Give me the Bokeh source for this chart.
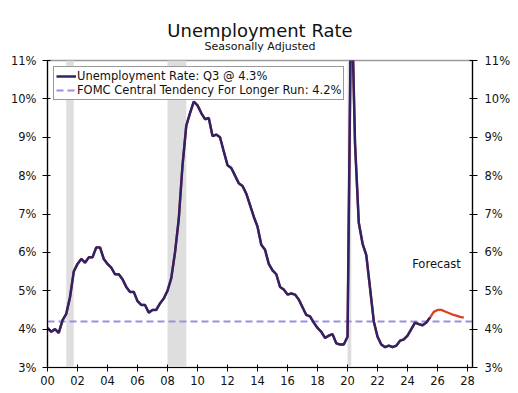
from bokeh.plotting import figure
from bokeh.models import Range1d, FixedTicker, LinearAxis, Title, Legend, LegendItem
from bokeh.core.properties import value
from bokeh.embed import file_html
from bokeh.resources import INLINE

# ---------------- data ----------------
start_year = 2000
# quarterly unemployment rate, 2000Q1 .. 2025Q3 (actual)
unemployment_actual = [
    4.03, 3.93, 4.00, 3.90,   # 2000
    4.23, 4.40, 4.83, 5.50,   # 2001
    5.70, 5.83, 5.73, 5.87,   # 2002
    5.87, 6.13, 6.13, 5.83,   # 2003
    5.70, 5.60, 5.43, 5.43,   # 2004
    5.30, 5.10, 4.97, 4.97,   # 2005
    4.73, 4.63, 4.63, 4.43,   # 2006
    4.50, 4.50, 4.67, 4.80,   # 2007
    5.00, 5.33, 6.00, 6.87,   # 2008
    8.27, 9.30, 9.63, 9.93,   # 2009
    9.83, 9.63, 9.47, 9.50,   # 2010
    9.03, 9.07, 9.00, 8.63,   # 2011
    8.27, 8.20, 8.00, 7.80,   # 2012
    7.73, 7.53, 7.23, 6.93,   # 2013
    6.67, 6.20, 6.07, 5.70,   # 2014
    5.53, 5.43, 5.10, 5.03,   # 2015
    4.90, 4.93, 4.90, 4.77,   # 2016
    4.57, 4.37, 4.33, 4.17,   # 2017
    4.03, 3.93, 3.77, 3.83,   # 2018
    3.87, 3.63, 3.60, 3.60,   # 2019
    3.80, 13.07, 8.83, 6.77,  # 2020
    6.23, 5.93, 5.07, 4.20,   # 2021
    3.80, 3.60, 3.53, 3.57,   # 2022
    3.53, 3.57, 3.70, 3.73,   # 2023
    3.83, 4.00, 4.17, 4.13,   # 2024
    4.10, 4.17, 4.30,         # 2025 Q1-Q3
]
# forecast 2025Q4 .. 2027Q4
unemployment_forecast = [4.45, 4.50, 4.50, 4.46, 4.42, 4.38, 4.35, 4.32, 4.30]
fomc_longer_run = 4.2

# recessions (start, end) in fractional years
recession_start = [2001.25, 2008.0, 2020.0]
recession_end = [2001.75, 2009.25, 2020.25]

x_ticks = list(range(2000, 2029, 2))
x_tick_labels = ["00", "02", "04", "06", "08", "10", "12", "14", "16", "18",
                 "20", "22", "24", "26", "28"]
y_ticks = [3, 4, 5, 6, 7, 8, 9, 10, 11]
y_tick_labels = ["3%", "4%", "5%", "6%", "7%", "8%", "9%", "10%", "11%"]

legend_actual = "Unemployment Rate: Q3 @ 4.3%"
legend_fomc = "FOMC Central Tendency For Longer Run: 4.2%"
forecast_label = "Forecast"

X_MIN, X_MAX = 2000.0, 2028.33
Y_MIN, Y_MAX = 3.0, 11.0

# ---------------- derived x values ----------------
x_actual = [start_year + i / 4 for i in range(len(unemployment_actual))]
n_total = len(unemployment_actual) + len(unemployment_forecast)
x_all = [start_year + i / 4 for i in range(n_total)]
y_all = unemployment_actual + unemployment_forecast

FONT = "DejaVu Sans"
TICK_FONT_SIZE = "11.5px"

p = figure(width=518, height=393, output_backend="svg", toolbar_location=None,
           title=None, x_range=Range1d(X_MIN, X_MAX), y_range=Range1d(Y_MIN, Y_MAX),
           min_border_left=47, min_border_right=46, min_border_top=60,
           min_border_bottom=26)

p.xgrid.visible = False
p.ygrid.visible = False
p.outline_line_color = "#9a9a9a"
p.outline_line_width = 1.5
p.background_fill_color = "white"
p.border_fill_color = "white"

# recession shading
p.quad(left=recession_start, right=recession_end,
       bottom=[Y_MIN] * len(recession_start), top=[Y_MAX] * len(recession_start),
       fill_color="#dedede", line_color=None)

# FOMC dashed line
fomc_r = p.line(x=[X_MIN, X_MAX], y=[fomc_longer_run, fomc_longer_run],
                line_color="#9b8de0", line_width=2, line_dash="7 4")

# forecast (red) under the actual series
p.line(x=x_all, y=y_all, line_color="#e0401e", line_width=2.3)
act_r = p.line(x=x_actual, y=unemployment_actual, line_color="#2f2368", line_width=2.5)

# forecast label
p.text(x=[2025.93], y=[5.70], text=[forecast_label], text_align="center",
       text_baseline="middle", text_font=value(FONT), text_font_size="11.5px",
       text_color="#111111")

# axes
def style_axis(ax):
    ax.axis_line_color = "black"
    ax.axis_line_width = 1.2
    ax.major_tick_line_color = "black"
    ax.minor_tick_line_color = None
    ax.major_label_text_font = FONT
    ax.major_label_text_font_size = TICK_FONT_SIZE
    ax.major_label_text_color = "#111111"

xa = p.xaxis[0]
xa.ticker = FixedTicker(ticks=x_ticks)
xa.major_label_overrides = {t: l for t, l in zip(x_ticks, x_tick_labels)}
xa.major_tick_in = 3
xa.major_tick_out = 4
xa.major_label_standoff = 4
style_axis(xa)

ya = p.yaxis[0]
ya.ticker = FixedTicker(ticks=y_ticks)
ya.major_label_overrides = {t: l for t, l in zip(y_ticks, y_tick_labels)}
ya.major_tick_in = 3
ya.major_tick_out = 5
ya.major_label_standoff = 6
style_axis(ya)

yr = LinearAxis(ticker=FixedTicker(ticks=y_ticks))
yr.major_label_overrides = {t: l for t, l in zip(y_ticks, y_tick_labels)}
yr.major_tick_in = 3
yr.major_tick_out = 5
yr.major_label_standoff = 7
style_axis(yr)
p.add_layout(yr, "right")

# legend
legend = Legend(items=[LegendItem(label=legend_actual, renderers=[act_r]),
                       LegendItem(label=legend_fomc, renderers=[fomc_r])],
                location="top_left")
legend.margin = 6
legend.padding = 2
legend.spacing = 0
legend.label_height = 12
legend.glyph_height = 12
legend.glyph_width = 20
legend.label_standoff = 1
legend.label_text_font = FONT
legend.label_text_font_size = "11.5px"
legend.label_text_color = "#111111"
legend.border_line_color = "#333333"
legend.border_line_width = 1
legend.background_fill_color = "white"
legend.background_fill_alpha = 1.0
p.add_layout(legend, "center")

# titles (subtitle closest to plot, added first)
p.add_layout(Title(text="Seasonally Adjusted", align="center", text_font=FONT,
                   text_font_size="11px", text_font_style="normal",
                   text_color="#111111", standoff=15), "above")
p.add_layout(Title(text="Unemployment Rate", align="center", text_font=FONT,
                   text_font_size="18px", text_font_style="normal",
                   text_color="#111111", standoff=-21), "above")

open("out.html", "w").write(file_html(p, INLINE))
